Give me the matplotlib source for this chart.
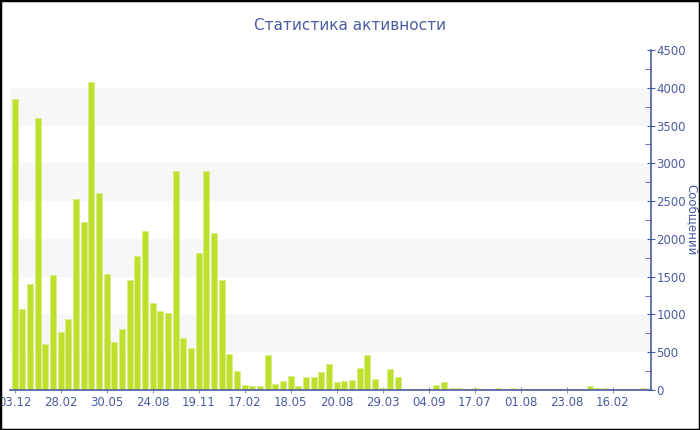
"""
Статистика активности: столбчатая диаграмма сообщений
"""

import numpy as np
import matplotlib
matplotlib.use("Agg")
import matplotlib.pyplot as plt
from matplotlib.patches import Rectangle

values = [
    3850, 1075, 1400, 3600, 605, 1520, 765, 935, 2530, 2220,
    4075, 2610, 1535, 630, 810, 1450, 1780, 2110, 1145, 1045,
    1020, 2900, 685, 550, 1810, 2895, 2075, 1450, 476, 250,
    62, 50, 55, 463, 85, 120, 190, 53, 168, 168,
    238, 348, 110, 123, 137, 295, 459, 150, 31, 278,
    176, 18, 18, 18, 18, 62, 110, 26, 26, 15,
    26, 18, 15, 22, 15, 26, 15, 15, 15, 15,
    15, 15, 15, 15, 15, 48, 22, 22, 15, 15,
    15, 15, 26,
]
tick_labels = ["03.12", "28.02", "30.05", "24.08", "19.11", "17.02", "18.05",
               "20.08", "29.03", "04.09", "17.07", "01.08", "23.08", "16.02"]
tick_step = 6
bands = [(500, 1000), (1500, 2000), (2500, 3000), (3500, 4000)]

blue = "#4a5ca0"
x = np.arange(len(values))

fig = plt.figure(figsize=(7, 4.3), dpi=100)
ax = fig.add_axes([10 / 700, 1 - 390 / 430, 641 / 700, 340 / 430])

for lo, hi in bands:
    ax.axhspan(lo, hi, color="#f7f7f7", zorder=0, lw=0)

ax.bar(x, values, width=0.78, color="#bde02c", edgecolor="#d8ee88",
       linewidth=0.6, zorder=2)

ax.set_xlim(-0.6, len(values))
ax.set_ylim(0, 4500)

ax.set_xticks(x[::tick_step][:len(tick_labels)])
ax.set_xticklabels(tick_labels)
ax.set_yticks(np.arange(0, 4501, 500))
ax.set_yticks(np.arange(250, 4500, 500), minor=True)

ax.yaxis.tick_right()
ax.yaxis.set_label_position("right")
ax.set_ylabel("Сообщений", rotation=270, color=blue, fontsize=8.5,
              va="center")
ax.yaxis.set_label_coords(682 / 641, 0.5)

for s in ["left", "top"]:
    ax.spines[s].set_visible(False)
for s in ["right", "bottom"]:
    ax.spines[s].set_color(blue)
    ax.spines[s].set_linewidth(1.2)

ax.tick_params(axis="y", which="major", direction="inout", length=6,
               color=blue, labelcolor=blue, labelsize=8.5, pad=1)
ax.tick_params(axis="y", which="minor", direction="in", length=4, color=blue)
ax.tick_params(axis="x", direction="inout", length=5, color="#999999",
               labelcolor=blue, labelsize=8.5, pad=2)

fig.suptitle("Статистика активности", x=0.5, y=1 - 25 / 430, va="center",
             color=blue, fontsize=11)

fig.patches.append(Rectangle((0, 0), 1, 1, transform=fig.transFigure,
                             fill=False, edgecolor="black", linewidth=2.5))

fig.savefig("out.png", dpi=100)
